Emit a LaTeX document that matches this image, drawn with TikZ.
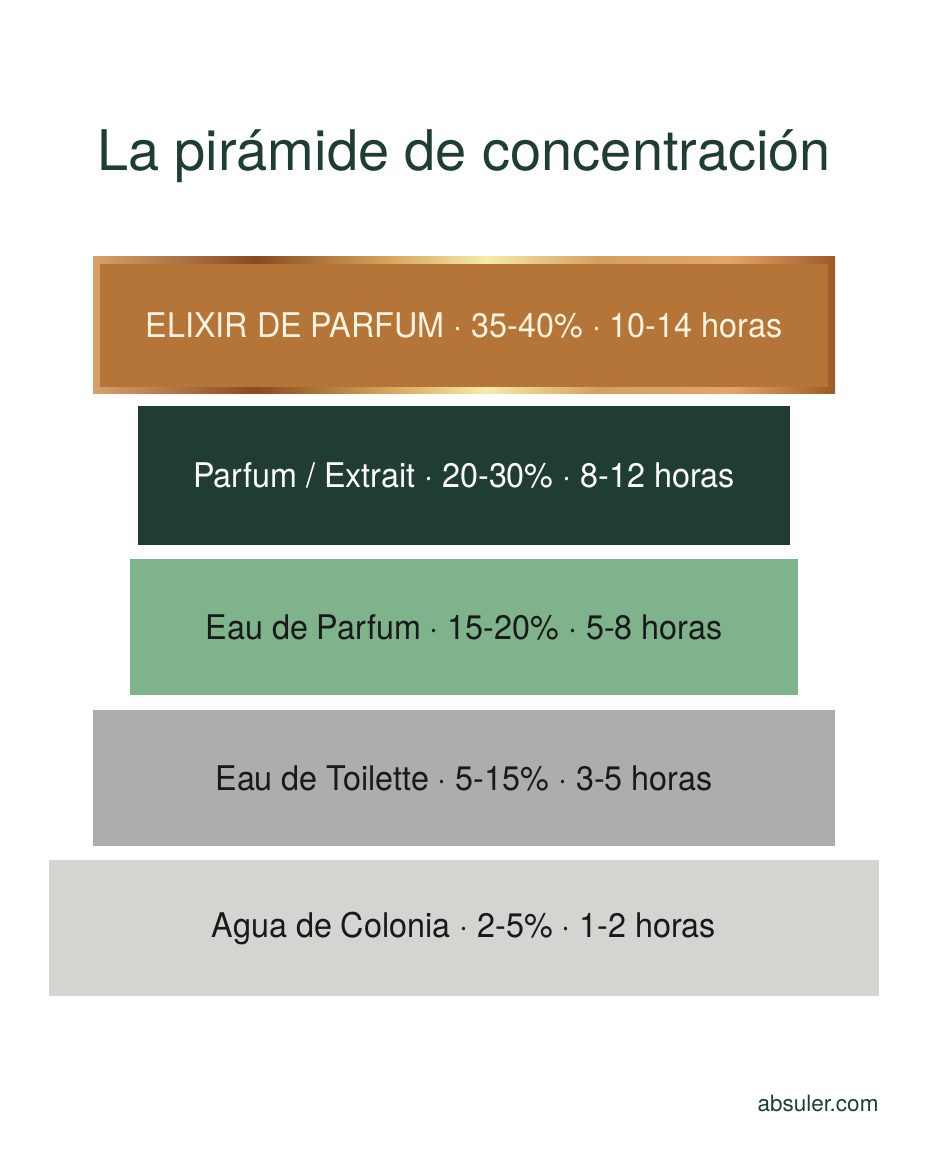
\documentclass[tikz,border=0pt]{standalone}
\usepackage{fontspec}
\setmainfont{TeX Gyre Heros}
\newfontfamily\barfont[FakeStretch=0.95]{TeX Gyre Heros}
\definecolor{darkgreen}{HTML}{1F3D32}
\definecolor{copper}{HTML}{B57538}
\definecolor{sage}{HTML}{7FB38C}
\definecolor{midgray}{HTML}{ADADAD}
\definecolor{lightgray}{HTML}{D4D5D1}
\definecolor{cream}{HTML}{FFF4E2}
\definecolor{gold1}{HTML}{D9A06A}
\definecolor{gold2}{HTML}{8A4A1E}
\definecolor{gold3}{HTML}{D7A65C}
\definecolor{gold4}{HTML}{F6EBA8}
\definecolor{gold5}{HTML}{D4A060}
\definecolor{gold6}{HTML}{E4A468}
\definecolor{gold7}{HTML}{9E5A26}
% the path runs from 25bp to 75bp of the shading
\pgfdeclarehorizontalshading{goldbar}{100bp}{color(0bp)=(gold1); color(25bp)=(gold1); color(36bp)=(gold2);
 color(45bp)=(gold3); color(51.5bp)=(gold4); color(59bp)=(gold5);
 color(68bp)=(gold6); color(75bp)=(gold7); color(100bp)=(gold7)}

\begin{document}
\begin{tikzpicture}[x=1pt,y=-1pt,
 bar/.style={rectangle,inner sep=0pt,font=\barfont\fontsize{34}{40}\selectfont}]
\useasboundingbox[fill=white] (0,0) rectangle (928,1152);

\node (title) [anchor=base,text=darkgreen,font=\fontsize{56}{64}\selectfont] at (464,170) {La pirámide de concentración};

 \node (elixir) [bar,minimum width=742pt,minimum height=137pt,text=cream,
  path picture={
   \shade[shading=goldbar] (path picture bounding box.south west) rectangle (path picture bounding box.north east);
   \fill[copper] ([shift={(7pt,-7pt)}]path picture bounding box.north west) rectangle ([shift={(-7pt,7pt)}]path picture bounding box.south east);
  }] at (464,325) {ELIXIR DE PARFUM · 35-40\% · 10-14 horas};
 \node (parfum) [bar,minimum width=652pt,minimum height=139pt,fill=darkgreen,text=white] at (464,475.5) {Parfum / Extrait · 20-30\% · 8-12 horas};
 \node (edp) [bar,minimum width=668pt,minimum height=136pt,fill=sage,text=black!90] at (464,627) {Eau de Parfum · 15-20\% · 5-8 horas};
 \node (edt) [bar,minimum width=742pt,minimum height=136pt,fill=midgray,text=black!90] at (464,778) {Eau de Toilette · 5-15\% · 3-5 horas};
 \node (colonia) [bar,minimum width=830pt,minimum height=136pt,fill=lightgray,text=black!90] at (464,928) {Agua de Colonia · 2-5\% · 1-2 horas};

\node (site) [anchor=base east,text=darkgreen,font=\fontsize{22.5}{27}\selectfont] at (882,1111) {absuler.com};
\end{tikzpicture}
\end{document}
